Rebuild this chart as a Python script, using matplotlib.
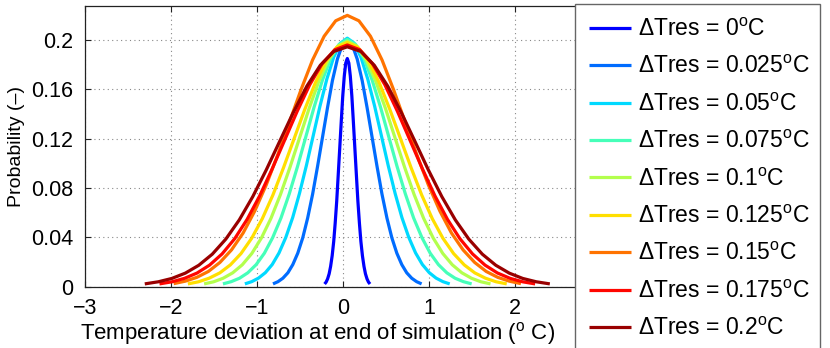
import matplotlib
matplotlib.use("Agg")
import matplotlib.pyplot as plt

plt.rcParams['font.family'] = ['Liberation Sans', 'DejaVu Sans']
plt.rcParams['mathtext.fontset'] = 'custom'
plt.rcParams['mathtext.rm'] = 'Liberation Sans'
plt.rcParams['mathtext.it'] = 'Liberation Sans:italic'

# ---- data ----
labels = ["0", "0.025", "0.05", "0.075", "0.1", "0.125", "0.15", "0.175", "0.2"]
colors = ["#0000FF", "#006CFF", "#00D9FF", "#46FFB9", "#B3FF4D",
          "#FFDF00", "#FF7300", "#FF0600", "#990000"]

x_000 = [-0.214, -0.196, -0.179, -0.161, -0.144, -0.126, -0.108, -0.091, -0.073, -0.056, -0.038,
         -0.020, -0.003, 0.015, 0.032, 0.050, 0.068, 0.085, 0.103, 0.120, 0.138, 0.156, 0.173,
         0.191, 0.208, 0.226, 0.244, 0.261, 0.279, 0.296, 0.314]
y_000 = [0.0021, 0.0037, 0.0063, 0.0104, 0.0164, 0.0250, 0.0366, 0.0514, 0.0694, 0.0901, 0.1122,
         0.1343, 0.1545, 0.1708, 0.1813, 0.1850, 0.1813, 0.1708, 0.1545, 0.1343, 0.1122, 0.0901,
         0.0694, 0.0514, 0.0366, 0.0250, 0.0164, 0.0104, 0.0063, 0.0037, 0.0021]

x_025 = [-0.814, -0.756, -0.699, -0.641, -0.584, -0.526, -0.468, -0.411, -0.353, -0.296, -0.238,
         -0.180, -0.123, -0.065, -0.008, 0.050, 0.108, 0.165, 0.223, 0.280, 0.338, 0.396, 0.453,
         0.511, 0.568, 0.626, 0.684, 0.741, 0.799, 0.856, 0.914]
y_025 = [0.0022, 0.0040, 0.0068, 0.0112, 0.0178, 0.0271, 0.0396, 0.0556, 0.0751, 0.0974, 0.1213,
         0.1452, 0.1671, 0.1846, 0.1960, 0.2000, 0.1960, 0.1846, 0.1671, 0.1452, 0.1213, 0.0974,
         0.0751, 0.0556, 0.0396, 0.0271, 0.0178, 0.0112, 0.0068, 0.0040, 0.0022]

x_050 = [-1.141, -1.062, -0.982, -0.903, -0.823, -0.744, -0.665, -0.585, -0.506, -0.426, -0.347,
         -0.268, -0.188, -0.109, -0.029, 0.050, 0.129, 0.209, 0.288, 0.368, 0.447, 0.526, 0.606,
         0.685, 0.765, 0.844, 0.923, 1.003, 1.082, 1.162, 1.241]
y_050 = [0.0022, 0.0040, 0.0069, 0.0113, 0.0179, 0.0273, 0.0399, 0.0560, 0.0756, 0.0981, 0.1222,
         0.1463, 0.1683, 0.1860, 0.1975, 0.2015, 0.1975, 0.1860, 0.1683, 0.1463, 0.1222, 0.0981,
         0.0756, 0.0560, 0.0399, 0.0273, 0.0179, 0.0113, 0.0069, 0.0040, 0.0022]

x_075 = [-1.396, -1.300, -1.203, -1.107, -1.010, -0.914, -0.818, -0.721, -0.625, -0.528, -0.432,
         -0.336, -0.239, -0.143, -0.046, 0.050, 0.146, 0.243, 0.339, 0.436, 0.532, 0.628, 0.725,
         0.821, 0.918, 1.014, 1.110, 1.207, 1.303, 1.400, 1.496]
y_075 = [0.0022, 0.0040, 0.0068, 0.0112, 0.0178, 0.0271, 0.0397, 0.0557, 0.0752, 0.0976, 0.1216,
         0.1456, 0.1675, 0.1851, 0.1965, 0.2005, 0.1965, 0.1851, 0.1675, 0.1456, 0.1216, 0.0976,
         0.0752, 0.0557, 0.0397, 0.0271, 0.0178, 0.0112, 0.0068, 0.0040, 0.0022]

x_100 = [-1.615, -1.504, -1.393, -1.282, -1.171, -1.060, -0.949, -0.838, -0.727, -0.616, -0.505,
         -0.394, -0.283, -0.172, -0.061, 0.050, 0.161, 0.272, 0.383, 0.494, 0.605, 0.716, 0.827,
         0.938, 1.049, 1.160, 1.271, 1.382, 1.493, 1.604, 1.715]
y_100 = [0.0022, 0.0039, 0.0068, 0.0112, 0.0177, 0.0269, 0.0394, 0.0553, 0.0747, 0.0969, 0.1207,
         0.1445, 0.1662, 0.1837, 0.1951, 0.1990, 0.1951, 0.1837, 0.1662, 0.1445, 0.1207, 0.0969,
         0.0747, 0.0553, 0.0394, 0.0269, 0.0177, 0.0112, 0.0068, 0.0039, 0.0022]

x_125 = [-1.804, -1.680, -1.557, -1.433, -1.310, -1.186, -1.062, -0.939, -0.815, -0.692, -0.568,
         -0.444, -0.321, -0.197, -0.074, 0.050, 0.174, 0.297, 0.421, 0.544, 0.668, 0.792, 0.915,
         1.039, 1.162, 1.286, 1.410, 1.533, 1.657, 1.780, 1.904]
y_125 = [0.0022, 0.0039, 0.0068, 0.0111, 0.0176, 0.0268, 0.0392, 0.0550, 0.0743, 0.0964, 0.1201,
         0.1438, 0.1654, 0.1828, 0.1941, 0.1980, 0.1941, 0.1828, 0.1654, 0.1438, 0.1201, 0.0964,
         0.0743, 0.0550, 0.0392, 0.0268, 0.0176, 0.0111, 0.0068, 0.0039, 0.0022]

x_150 = [-1.969, -1.834, -1.700, -1.565, -1.431, -1.296, -1.161, -1.027, -0.892, -0.758, -0.623,
         -0.488, -0.354, -0.219, -0.085, 0.050, 0.185, 0.319, 0.454, 0.588, 0.723, 0.858, 0.992,
         1.127, 1.261, 1.396, 1.531, 1.665, 1.800, 1.934, 2.069]
y_150 = [0.0024, 0.0044, 0.0075, 0.0123, 0.0196, 0.0298, 0.0435, 0.0612, 0.0826, 0.1071, 0.1334,
         0.1597, 0.1838, 0.2031, 0.2156, 0.2200, 0.2156, 0.2031, 0.1838, 0.1597, 0.1334, 0.1071,
         0.0826, 0.0612, 0.0435, 0.0298, 0.0196, 0.0123, 0.0075, 0.0044, 0.0024]

x_175 = [-2.134, -1.988, -1.843, -1.697, -1.552, -1.406, -1.260, -1.115, -0.969, -0.824, -0.678,
         -0.532, -0.387, -0.241, -0.096, 0.050, 0.196, 0.341, 0.487, 0.632, 0.778, 0.924, 1.069,
         1.215, 1.360, 1.506, 1.652, 1.797, 1.943, 2.088, 2.234]
y_175 = [0.0022, 0.0039, 0.0067, 0.0110, 0.0174, 0.0265, 0.0388, 0.0545, 0.0736, 0.0954, 0.1189,
         0.1423, 0.1637, 0.1809, 0.1921, 0.1960, 0.1921, 0.1809, 0.1637, 0.1423, 0.1189, 0.0954,
         0.0736, 0.0545, 0.0388, 0.0265, 0.0174, 0.0110, 0.0067, 0.0039, 0.0022]

x_200 = [-2.305, -2.148, -1.991, -1.834, -1.677, -1.520, -1.363, -1.206, -1.049, -0.892, -0.735,
         -0.578, -0.421, -0.264, -0.107, 0.050, 0.207, 0.364, 0.521, 0.678, 0.835, 0.992, 1.149,
         1.306, 1.463, 1.620, 1.777, 1.934, 2.091, 2.248, 2.405]
y_200 = [0.0022, 0.0039, 0.0066, 0.0109, 0.0173, 0.0263, 0.0385, 0.0541, 0.0730, 0.0947, 0.1180,
         0.1412, 0.1625, 0.1795, 0.1907, 0.1945, 0.1907, 0.1795, 0.1625, 0.1412, 0.1180, 0.0947,
         0.0730, 0.0541, 0.0385, 0.0263, 0.0173, 0.0109, 0.0066, 0.0039, 0.0022]

xs = [x_000, x_025, x_050, x_075, x_100, x_125, x_150, x_175, x_200]
ys = [y_000, y_025, y_050, y_075, y_100, y_125, y_150, y_175, y_200]

x_ticks = [-3, -2, -1, 0, 1, 2, 3]
x_ticklabels = ["\u22123", "\u22122", "\u22121", "0", "1", "2", "3"]
y_ticks = [0, 0.04, 0.08, 0.12, 0.16, 0.2]
y_ticklabels = ["0", "0.04", "0.08", "0.12", "0.16", "0.2"]

# ---- figure ----
W, H = 830, 348
fig = plt.figure(figsize=(W / 100, H / 100), dpi=100)
ax = fig.add_axes([85 / W, (H - 286.6) / H, 516 / W, 281.1 / H])

for x, y, lab, c in zip(xs, ys, labels, colors):
    ax.plot(x, y, color=c, lw=2.3, solid_capstyle='butt', solid_joinstyle='round',
            label="\u0394Tres = " + lab + r"$^{\mathrm{o}}$C")

ax.set_xlim(-3, 3)
ax.set_ylim(0, 0.228)
ax.set_xticks(x_ticks)
ax.set_xticklabels(x_ticklabels)
ax.set_yticks(y_ticks)
ax.set_yticklabels(y_ticklabels)
ax.tick_params(direction='in', length=4, width=0.8, top=True, right=True,
               labelsize=15.5, pad=8.5, colors='#222222', labelcolor='black')
ax.grid(True, linestyle=(0, (1, 3)), linewidth=0.8, color='#888888')
for s in ax.spines.values():
    s.set_linewidth(0.9)
    s.set_color('#222222')

ax.set_ylabel("Probability (\u2013)", fontsize=14)
ax.yaxis.set_label_coords(-0.116, 0.5)
ax.set_xlabel(r"Temperature deviation at end of simulation ($^{\mathrm{o}}$ C)", fontsize=16)
ax.xaxis.set_label_coords(0.45, -0.12)

leg = ax.legend(loc='upper left', bbox_to_anchor=(575 / W, 0.0172, 245 / W, 1 - 4 / H - 0.0172),
                bbox_transform=fig.transFigure, mode='expand', borderaxespad=0,
                fontsize=16.5, handlelength=1.85, handletextpad=0.3, labelspacing=0.63,
                borderpad=0.6, fancybox=False, framealpha=1, edgecolor='#666666')
leg.get_frame().set_linewidth(1.0)
for line in leg.get_lines():
    line.set_linewidth(2.3)

fig.savefig("out.png", dpi=100)
